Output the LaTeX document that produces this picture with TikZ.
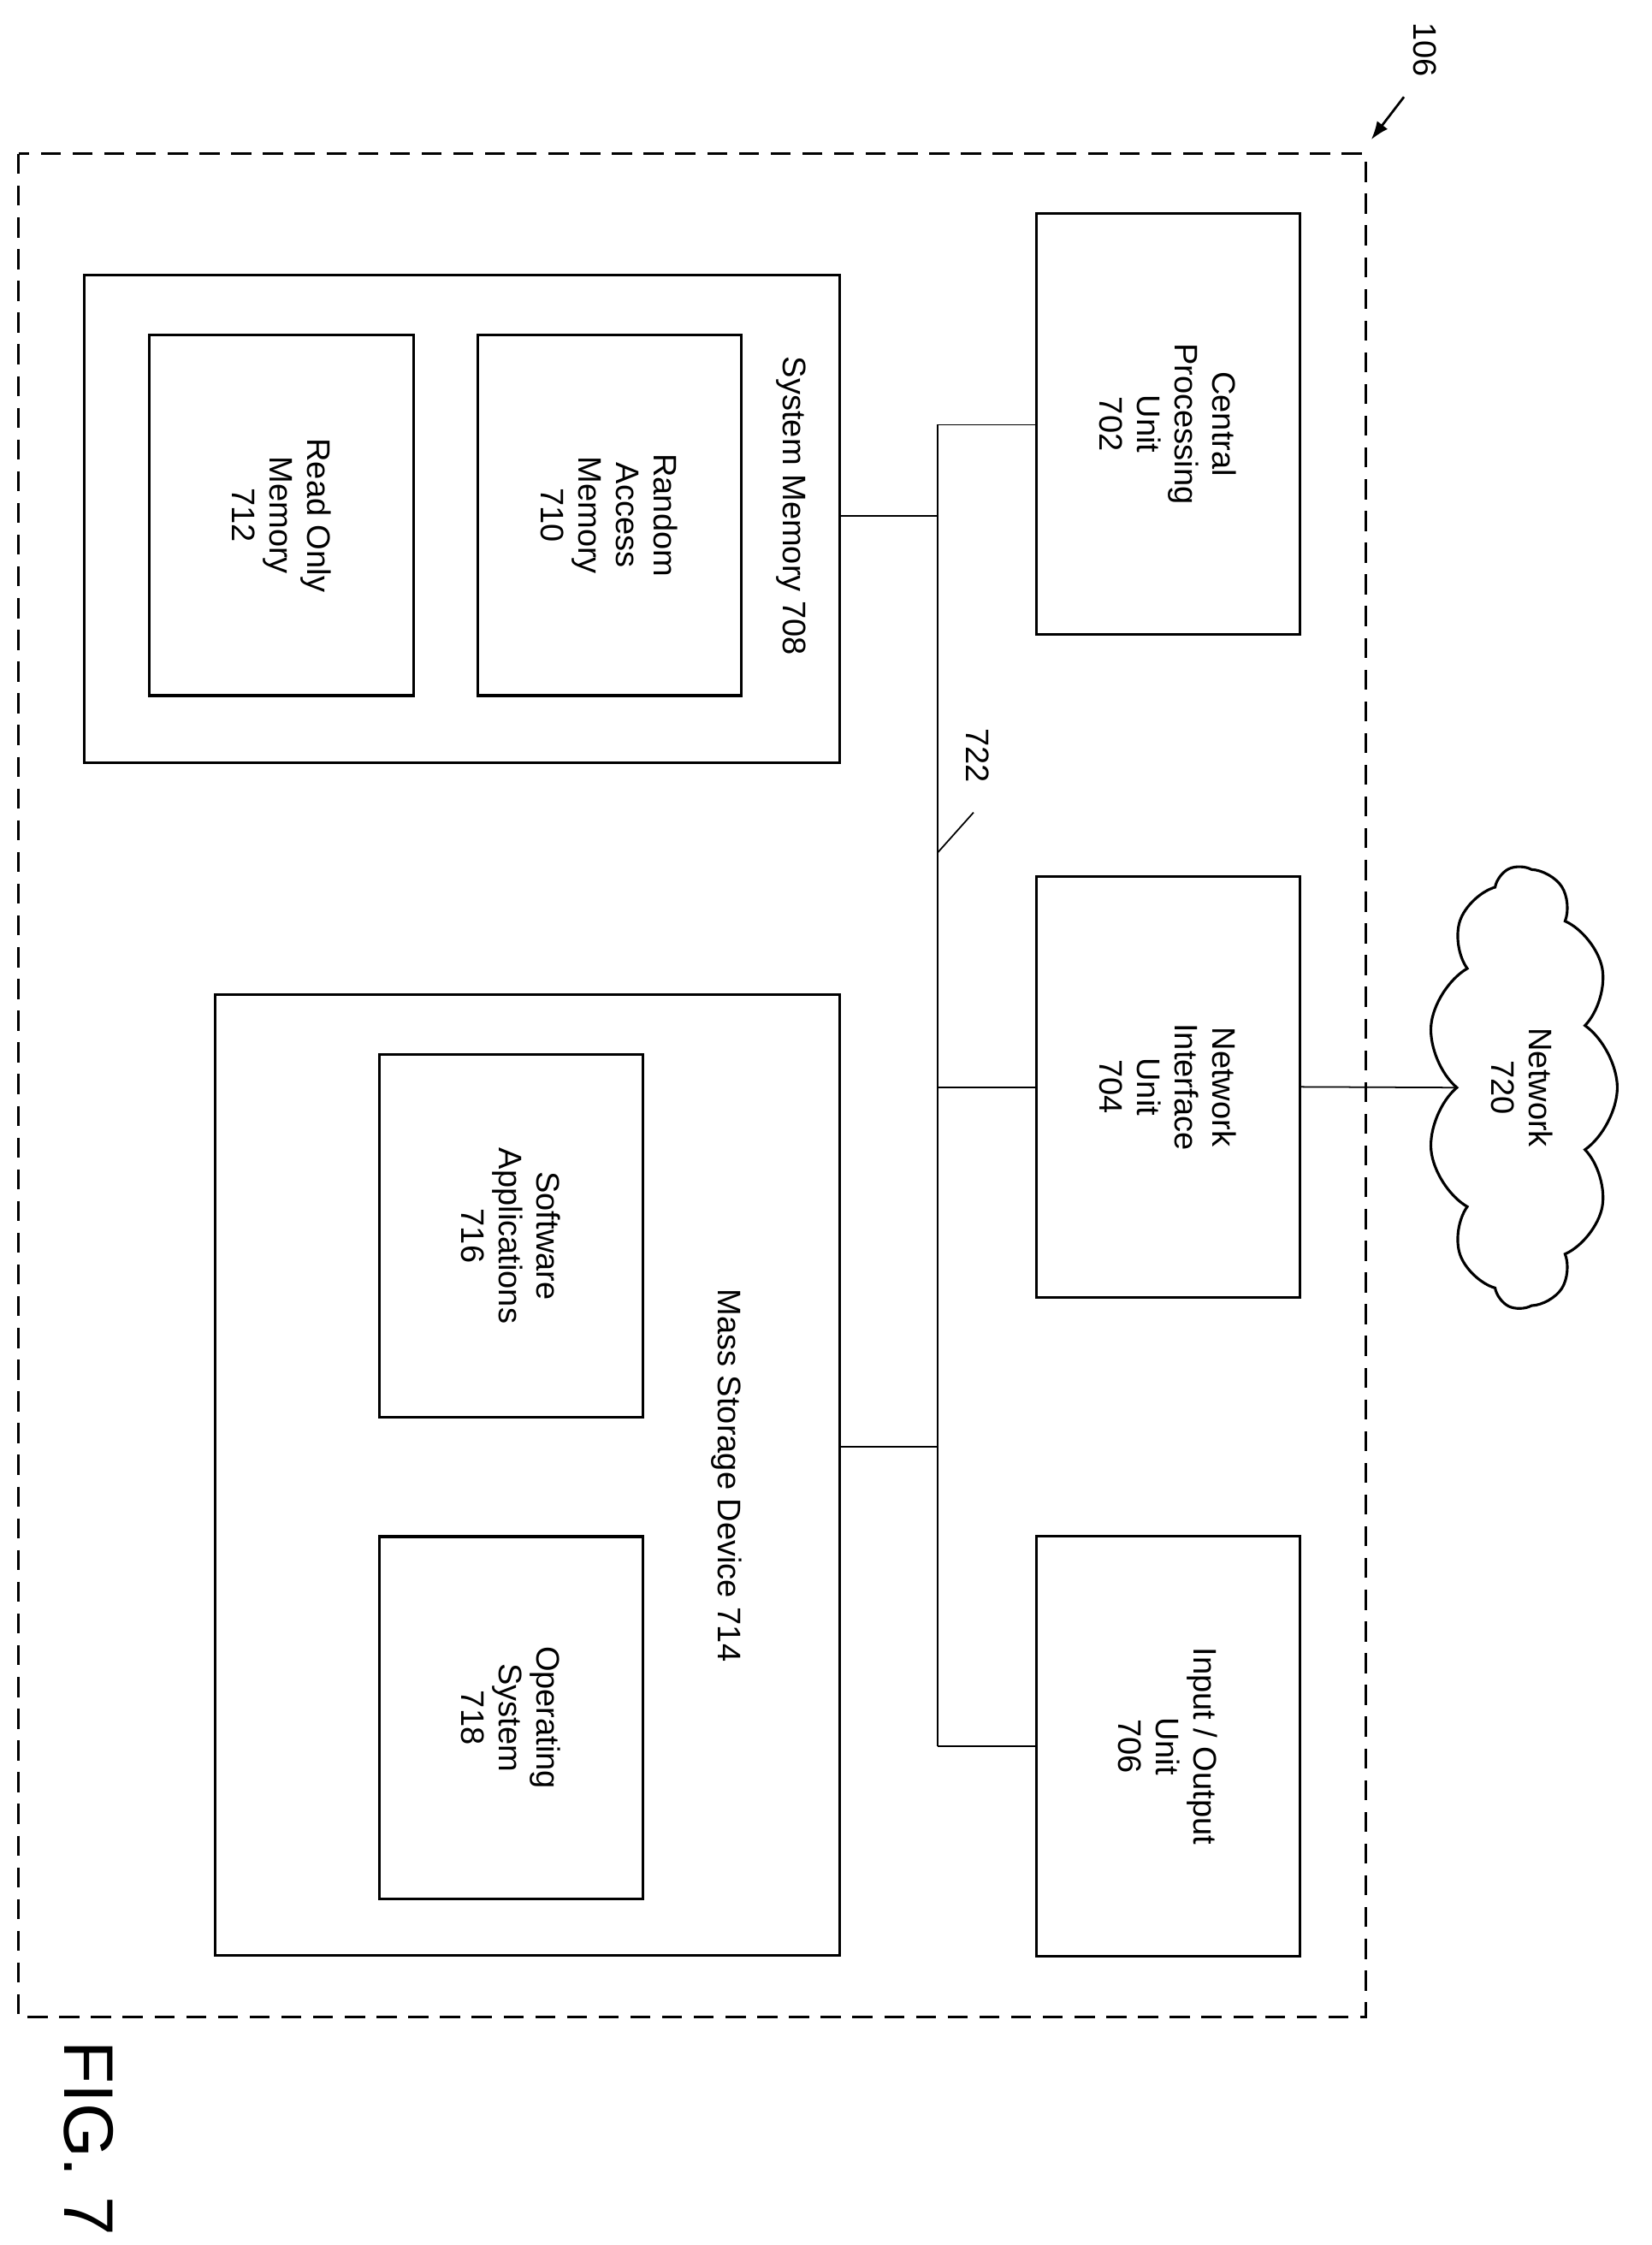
\documentclass[tikz,border=0pt]{standalone}
\usepackage{fontspec}
\setmainfont{Liberation Sans}
\usetikzlibrary{shapes.symbols,positioning,arrows.meta}
\begin{document}
\begin{tikzpicture}[x=0.03cm,y=-0.03cm,
	box/.style={draw,line width=1.6pt,inner sep=0pt},
	lbl/.style={rotate=-90,align=center,font=\fontsize{19.5}{22.5}\selectfont},
	bus/.style={line width=0.9pt}]
\useasboundingbox (0,0) rectangle (1159,1575);
%% outer device
\draw[line width=1.6pt,dash pattern=on 12pt off 7pt] (13,108) rectangle (958,1415);
\node[lbl] (dev) at (1000,35) {106};
\draw[line width=1.4pt,-{Latex[length=11pt,width=8pt]}] (985,68) -- (962,98);
%% units on the right
\node[box,minimum width=5.55cm,minimum height=8.85cm] (cpu) at (819.5,297.5) {};
\node[lbl] at (cpu) {Central\\Processing\\Unit\\702};
\node[box,minimum width=5.55cm,minimum height=8.85cm] (niu) at (819.5,762.5) {};
\node[lbl] at (niu) {Network\\Interface\\Unit\\704};
\node[box,minimum width=5.55cm,minimum height=8.85cm] (iou) at (819.5,1225) {};
\node[lbl] at (iou) {Input / Output\\Unit\\706};
%% system memory
\node[box,minimum width=15.9cm,minimum height=10.26cm] (sysmem) at (324,364) {};
\node[lbl] at (555,355) {System Memory 708};
\node[box,minimum width=5.55cm,minimum height=7.59cm] (ram) at (427.5,361.5) {};
\node[lbl] at (ram) {Random\\Access\\Memory\\710};
\node[box,minimum width=5.55cm,minimum height=7.59cm] (rom) at (197.5,361.5) {};
\node[lbl] at (rom) {Read Only\\Memory\\712};
%% mass storage
\node[box,minimum width=13.14cm,minimum height=20.22cm] (mass) at (370,1035) {};
\node[lbl] at (510,1035) {Mass Storage Device 714};
\node[box,minimum width=5.55cm,minimum height=7.62cm] (soft) at (358.5,867) {};
\node[lbl] at (soft) {Software\\Applications\\716};
\node[box,minimum width=5.55cm,minimum height=7.62cm] (os) at (358.5,1205) {};
\node[lbl] at (os) {Operating\\System\\718};
%% network
\node[cloud,draw,line width=1.6pt,cloud puffs=11,cloud puff arc=110,aspect=2.3,
	minimum width=9.3cm,minimum height=4.0cm,rotate=-90] (net) at (1068,763) {};
\node[lbl] at (net) {Network\\720};
%% bus 722
\coordinate (btop) at (658,298);
\coordinate (bbot) at (658,1225);
\draw[bus] (btop) -- (bbot);
\draw[bus] (btop) -- (cpu.west |- btop);
\draw[bus] (sysmem.east |- 658,362) -- (658,362);
\draw[bus] (658,763) -- (niu.west |- 658,763);
\draw[bus] (mass.east |- 658,1015) -- (658,1015);
\draw[bus] (bbot) -- (iou.west |- bbot);
\draw[bus] (niu.east) -- (net.south);
\node[lbl] (buslbl) at (686,530) {722};
\draw[bus] (658,598) -- (683,570);
%% figure label
\node[rotate=-90,font=\fontsize{42}{50}\selectfont] (fig) at (62,1500) {FIG. 7};
\end{tikzpicture}
\end{document}
